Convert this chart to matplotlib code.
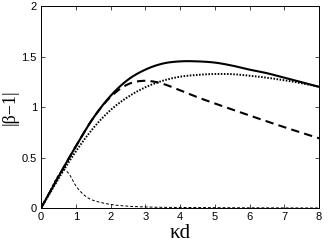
import matplotlib
matplotlib.use("Agg")
import matplotlib.pyplot as plt
import numpy as np

# values
kd_solid = [0, 0.5, 1.0, 1.5, 2.0, 2.5, 3.0, 3.5, 4.0, 4.5, 5.0, 5.5, 6.0, 6.5, 7.0, 7.5, 8.0]
beta_solid = [0, 0.31, 0.61, 0.89, 1.11, 1.27, 1.37, 1.43, 1.452, 1.452, 1.44, 1.41, 1.37, 1.335, 1.29, 1.245, 1.20]

kd_dashed = [0, 0.5, 1.0, 1.5, 2.0, 2.5, 3.0, 3.5, 4.0, 4.5, 5.0, 5.5, 6.0, 6.5, 7.0, 7.5, 8.0]
beta_dashed = [0, 0.31, 0.61, 0.89, 1.10, 1.225, 1.26, 1.23, 1.165, 1.097, 1.035, 0.975, 0.915, 0.858, 0.80, 0.745, 0.69]

kd_dotted = [0, 0.5, 1.0, 1.5, 2.0, 2.5, 3.0, 3.5, 4.0, 4.5, 5.0, 5.5, 6.0, 6.5, 7.0, 7.5, 8.0]
beta_dotted = [0, 0.29, 0.56, 0.79, 0.97, 1.10, 1.195, 1.26, 1.30, 1.318, 1.327, 1.325, 1.31, 1.29, 1.265, 1.235, 1.20]

kd_thin = [0, 0.2, 0.4, 0.55, 0.65, 0.8, 1.0, 1.2, 1.4, 1.6, 1.8, 2.0, 2.5, 3.0, 4.0, 5.0, 6.0, 7.0, 8.0]
beta_thin = [0, 0.13, 0.27, 0.35, 0.38, 0.34, 0.22, 0.14, 0.09, 0.065, 0.048, 0.035, 0.018, 0.01, 0.005, 0.003, 0.002, 0.001, 0.0]


def smooth(xs, ys, n=300):
    # cubic hermite through the read points
    xs = np.asarray(xs, float)
    ys = np.asarray(ys, float)
    xf = np.linspace(xs[0], xs[-1], n)
    h = np.diff(xs)
    d = np.diff(ys) / h
    m = np.zeros_like(ys)
    m[1:-1] = (d[:-1] * h[1:] + d[1:] * h[:-1]) / (h[:-1] + h[1:])
    m[0], m[-1] = d[0], d[-1]
    idx = np.clip(np.searchsorted(xs, xf) - 1, 0, len(h) - 1)
    t = (xf - xs[idx]) / h[idx]
    h00 = 2 * t**3 - 3 * t**2 + 1
    h10 = t**3 - 2 * t**2 + t
    h01 = -2 * t**3 + 3 * t**2
    h11 = t**3 - t**2
    yf = h00 * ys[idx] + h10 * h[idx] * m[idx] + h01 * ys[idx + 1] + h11 * h[idx] * m[idx + 1]
    return xf, yf


fig = plt.figure(figsize=(3.31, 2.46), dpi=100)
ax = fig.add_axes([0.124, 0.1545, 0.84, 0.821])

ax.plot(*smooth(kd_solid, beta_solid), color="black", lw=1.5)
ax.plot(*smooth(kd_dashed, beta_dashed), color="black", lw=1.5, dashes=(4, 2.5))
ax.plot(*smooth(kd_dotted, beta_dotted), color="black", lw=1.4, dashes=(0.8, 0.8))
ax.plot(*smooth(kd_thin, beta_thin), color="black", lw=0.7, dashes=(3, 2))

ax.set_xlim(0, 8)
ax.set_ylim(0, 2)
ax.set_xticks(range(0, 9))
ax.set_yticks([0, 0.5, 1, 1.5, 2])
ax.set_yticklabels(["0", "0.5", "1", "1.5", "2"])
ax.tick_params(direction="in", top=True, right=True, length=3, width=0.5,
               labelsize=8, pad=3, colors="black")
for lbl in ax.get_xticklabels() + ax.get_yticklabels():
    lbl.set_family("Liberation Sans")
for s in ax.spines.values():
    s.set_linewidth(0.7)

ax.set_xlabel("κd", family="Liberation Serif", fontsize=15, labelpad=1)
ax.set_ylabel("|β−1|", family="Liberation Serif", fontsize=13, labelpad=2)

fig.savefig("out.png", dpi=100)
